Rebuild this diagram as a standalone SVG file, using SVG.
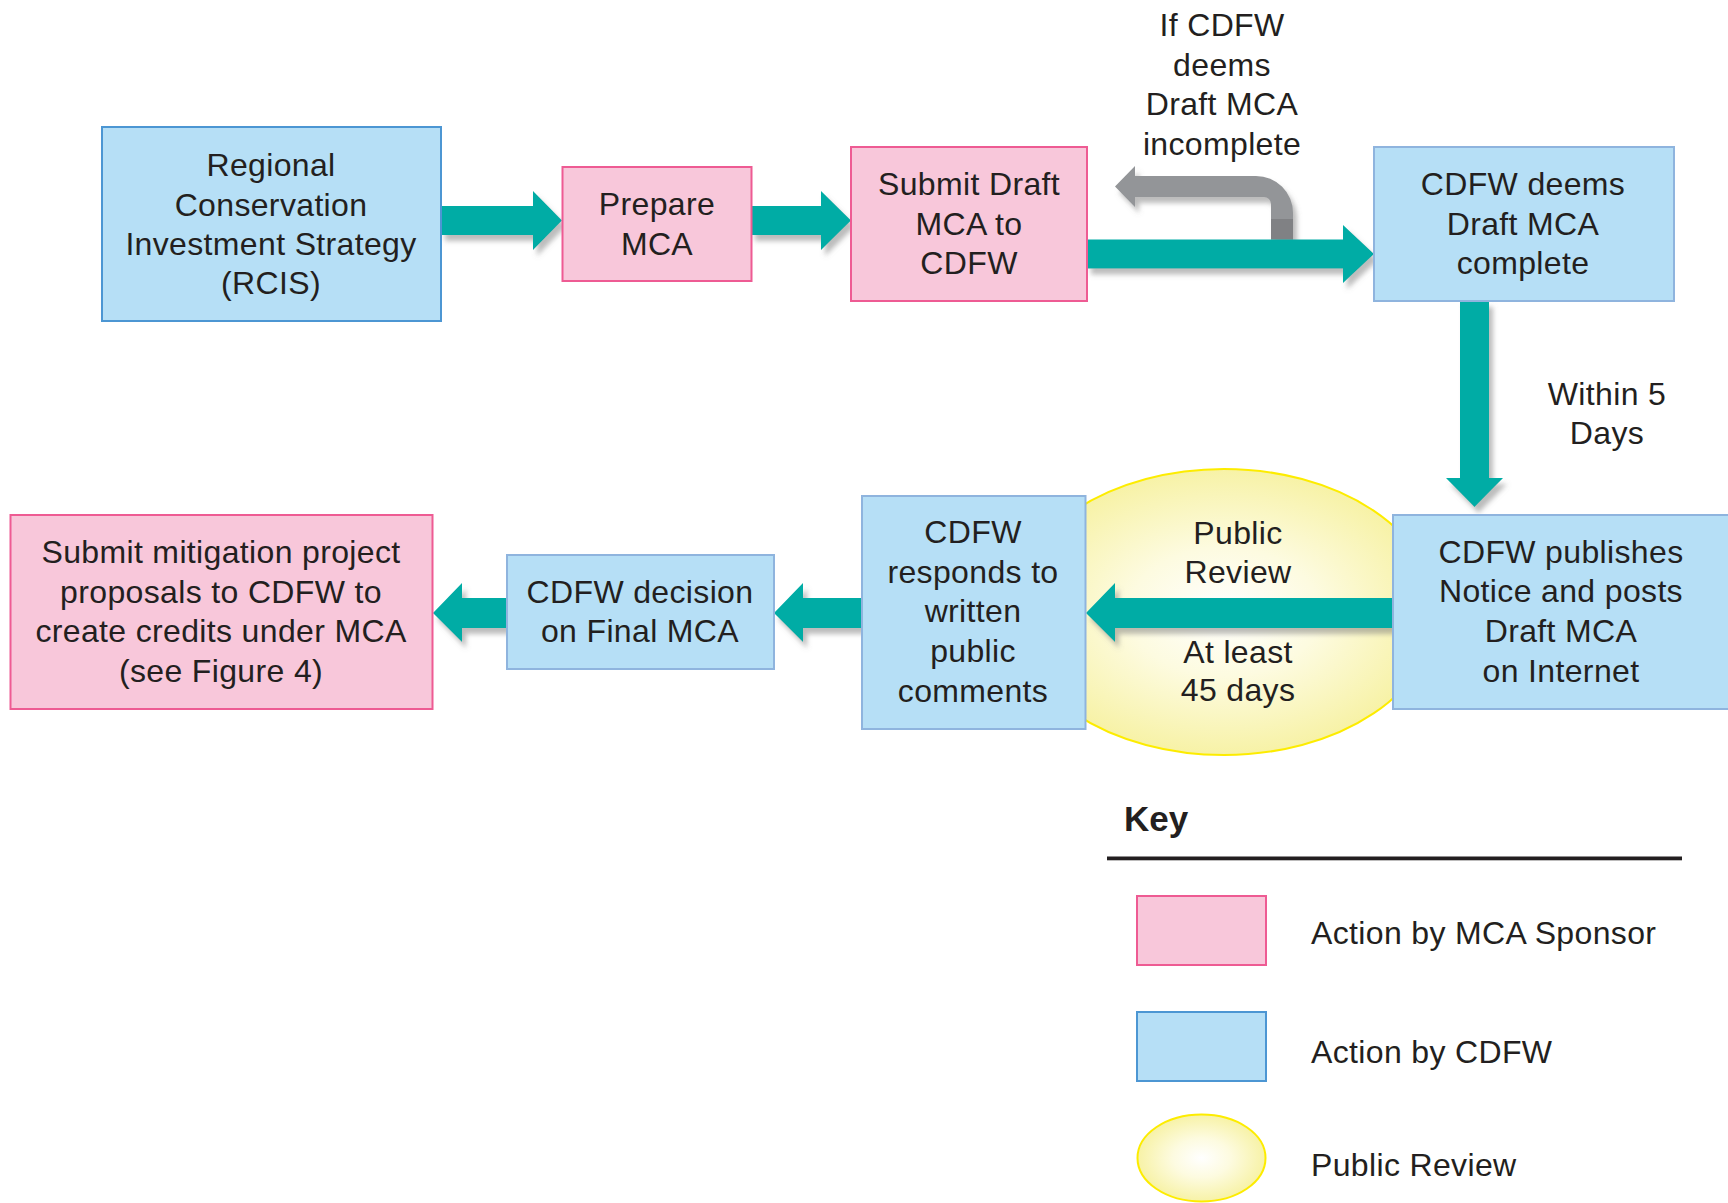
<svg xmlns="http://www.w3.org/2000/svg" width="1728" height="1203" viewBox="0 0 1728 1203">
<defs>
<style>
.t{font-family:"Liberation Sans",Arial,sans-serif;font-size:32px;letter-spacing:0.35px;fill:#231f20;text-anchor:middle}
.tl{font-family:"Liberation Sans",Arial,sans-serif;font-size:32px;letter-spacing:0.35px;fill:#231f20}
.pink{fill:#f8c7da;stroke:#ee5b93;stroke-width:2}
.blue{fill:#b6dff6;stroke:#8fb4de;stroke-width:2}
.blue2{fill:#b6dff6;stroke:#4c96d3;stroke-width:2}
.arr{fill:#00aca5;filter:url(#sh)}
</style>
<filter id="sh" x="-20%" y="-30%" width="150%" height="170%">
<feDropShadow dx="4" dy="6" stdDeviation="2.5" flood-color="#7a7a7a" flood-opacity="0.5"/>
</filter>
<radialGradient id="yel" cx="50%" cy="50%" r="50%">
<stop offset="0" stop-color="#ffffff"/>
<stop offset="0.45" stop-color="#fdfbe0"/>
<stop offset="1" stop-color="#f7f2a6"/>
</radialGradient>
</defs>
<rect width="1728" height="1203" fill="#ffffff"/>

<g id="public-review">
<ellipse cx="1224" cy="612" rx="212" ry="143" fill="url(#yel)" stroke="#fdec00" stroke-width="2"/>
<text class="t" x="1238" y="544">Public</text>
<text class="t" x="1238" y="583">Review</text>
<text class="t" x="1238" y="663">At least</text>
<text class="t" x="1238" y="701">45 days</text>
</g>

<g id="connectors">
<path d="M1293,239.5 V213 A37,37 0 0 0 1256,176 H1135 V166 L1115,186.5 L1135,207 V197 H1264 A7,7 0 0 1 1271,204 V239.5 Z" fill="#939598" filter="url(#sh)"/>
<rect x="1271" y="219" width="22" height="20.5" fill="#808184"/>
<polygon class="arr" points="441,206 533,206 533,191 562,220.5 533,250 533,235 441,235"/>
<polygon class="arr" points="751,206 821,206 821,191 851,220.5 821,250 821,235 751,235"/>
<polygon class="arr" points="1087,239.5 1343,239.5 1343,225 1374,254 1343,283 1343,268.5 1087,268.5"/>
<polygon class="arr" points="1460,301 1489,301 1489,478 1503,478 1474.5,507 1446,478 1460,478"/>
<polygon class="arr" points="1393,598 1115,598 1115,583 1086,613 1115,642 1115,628 1393,628"/>
<polygon class="arr" points="862,598 803,598 803,583 774,613 803,642 803,628 862,628"/>
<polygon class="arr" points="507,598 462,598 462,583 433,613 462,642 462,628 507,628"/>
</g>

<g id="rcis">
<rect class="blue2" x="102" y="127" width="339" height="194"/>
<text class="t" x="271" y="176">Regional</text>
<text class="t" x="271" y="215.5">Conservation</text>
<text class="t" x="271" y="255">Investment Strategy</text>
<text class="t" x="271" y="294">(RCIS)</text>
</g>

<g id="prepare">
<rect class="pink" x="562.5" y="167" width="189" height="114"/>
<text class="t" x="657" y="215">Prepare</text>
<text class="t" x="657" y="255">MCA</text>
</g>

<g id="submit-draft">
<rect class="pink" x="851" y="147" width="236" height="154"/>
<text class="t" x="969" y="195">Submit Draft</text>
<text class="t" x="969" y="235">MCA to</text>
<text class="t" x="969" y="274">CDFW</text>
</g>

<g id="incomplete-label">
<text class="t" x="1222" y="36">If CDFW</text>
<text class="t" x="1222" y="75.5">deems</text>
<text class="t" x="1222" y="115">Draft MCA</text>
<text class="t" x="1222" y="154.5">incomplete</text>
</g>

<g id="complete">
<rect class="blue" x="1374" y="147" width="300" height="154"/>
<text class="t" x="1523" y="195">CDFW deems</text>
<text class="t" x="1523" y="235">Draft MCA</text>
<text class="t" x="1523" y="274">complete</text>
</g>

<g id="within-label">
<text class="t" x="1607" y="405">Within 5</text>
<text class="t" x="1607" y="444">Days</text>
</g>

<g id="publishes">
<rect class="blue" x="1393" y="515" width="345" height="194"/>
<text class="t" x="1561" y="563">CDFW publishes</text>
<text class="t" x="1561" y="602">Notice and posts</text>
<text class="t" x="1561" y="642">Draft MCA</text>
<text class="t" x="1561" y="682">on Internet</text>
</g>

<g id="responds">
<rect class="blue" x="862" y="496" width="223.5" height="233"/>
<text class="t" x="973" y="543">CDFW</text>
<text class="t" x="973" y="583">responds to</text>
<text class="t" x="973" y="622">written</text>
<text class="t" x="973" y="662">public</text>
<text class="t" x="973" y="702">comments</text>
</g>

<g id="decision">
<rect class="blue" x="507" y="555" width="267" height="114"/>
<text class="t" x="640" y="603">CDFW decision</text>
<text class="t" x="640" y="642">on Final MCA</text>
</g>

<g id="submit-mitigation">
<rect class="pink" x="10.5" y="515" width="422" height="194"/>
<text class="t" x="221" y="563">Submit mitigation project</text>
<text class="t" x="221" y="603">proposals to CDFW to</text>
<text class="t" x="221" y="642">create credits under MCA</text>
<text class="t" x="221" y="682">(see Figure 4)</text>
</g>

<g id="key">
<text x="1124" y="831" font-family="Liberation Sans,Arial,sans-serif" font-size="35" font-weight="bold" fill="#231f20">Key</text>
<rect x="1107" y="856.5" width="575" height="3.8" fill="#231f20"/>
<rect class="pink" x="1137" y="896" width="129" height="69"/>
<text class="tl" x="1311" y="944">Action by MCA Sponsor</text>
<rect class="blue2" x="1137" y="1012" width="129" height="69"/>
<text class="tl" x="1311" y="1063">Action by CDFW</text>
<ellipse cx="1201.5" cy="1158" rx="64" ry="43.5" fill="url(#yel)" stroke="#fdec00" stroke-width="2"/>
<text class="tl" x="1311" y="1176">Public Review</text>
</g>
</svg>
